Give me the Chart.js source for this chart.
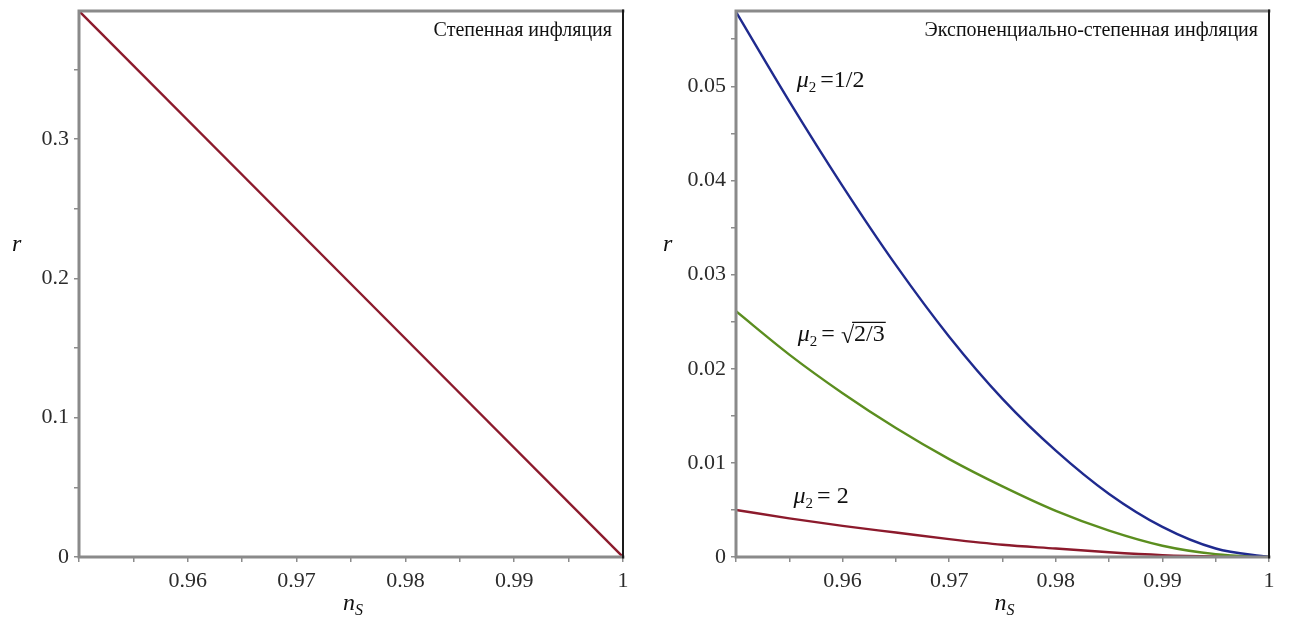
<!DOCTYPE html>
<html><head><meta charset="utf-8">
<script src="https://cdn.jsdelivr.net/npm/chart.js@4.4.0/dist/chart.umd.min.js"></script>
<style>
html,body{margin:0;padding:0;background:#fff;width:1290px;height:617px;overflow:hidden}
.w{position:absolute;top:0;width:645px;height:617px}
#wl{left:0}#wr{left:645px}
canvas{display:block}
</style></head><body>
<div class="w" id="wl"><canvas id="cl" width="645" height="617"></canvas></div>
<div class="w" id="wr"><canvas id="cr" width="645" height="617"></canvas></div>
<script>
// ---- data ----
const nsLeft = [0.95, 1.0];
const rPowerLaw = [0.392, 0.0];

const nsRight = [0.950, 0.955, 0.960, 0.965, 0.970, 0.975, 0.980, 0.985, 0.990, 0.995, 1.000];
const rMuHalf = [0.0579, 0.0484, 0.0394, 0.0310, 0.0234, 0.0168, 0.0113, 0.0067, 0.0032, 0.0009, 0.0];
const rMuSqrt = [0.0261, 0.0215, 0.0174, 0.0137, 0.0104, 0.0075, 0.0049, 0.0028, 0.0012, 0.0003, 0.0];
const rMuTwo  = [0.0050, 0.0041, 0.0033, 0.0026, 0.0019, 0.0013, 0.0009, 0.0005, 0.0002, 0.00005, 0.0];

const xTickLabels = ['0.96', '0.97', '0.98', '0.99', '1'];
const yTickLabelsLeft = ['0', '0.1', '0.2', '0.3'];
const yTickLabelsRight = ['0', '0.01', '0.02', '0.03', '0.04', '0.05'];

const titleLeft = 'Степенная инфляция';
const titleRight = 'Экспоненциально-степенная инфляция';
const muLabels = [
  {sub: '2', rest: '=1/2', sqrt: false, x: 0.9557, y: 0.0499},
  {sub: '2', rest: '2/3', sqrt: true, x: 0.9558, y: 0.0229},
  {sub: '2', rest: '= 2', sqrt: false, x: 0.9554, y: 0.0057}
];

// ---- helpers ----
const SERIF = '"Liberation Serif", "Times New Roman", serif';
const fmt = v => String(Number(v.toFixed(4)));
function pts(xs, ys){ return xs.map((x,i)=>({x:x, y:ys[i]})); }

function makeScale(min, max, step, labels, axis, size){
  return {
    type: 'linear', min: min, max: max,
    afterBuildTicks(s){ s.ticks = s.ticks.filter(t => Math.abs(t.value/step - Math.round(t.value/step)) < 1e-6); },
    afterFit(s){
      if(axis === 'x') s.height = size; else s.width = size;
      s.paddingTop = 0; s.paddingBottom = 0; s.paddingLeft = 0; s.paddingRight = 0;
    },
    ticks: {
      stepSize: step, autoSkip: false, maxRotation: 0, minRotation: 0,
      padding: axis === 'x' ? 6 : 5,
      color: '#2b2b2b',
      font: {family: SERIF, size: 22},
      callback: v => { const s = fmt(v); return labels.includes(s) ? s : ''; }
    },
    grid: {drawOnChartArea: false, drawTicks: true, tickLength: 5, color: '#8c8c8c', lineWidth: 1.5},
    border: {display: false}
  };
}

const framePlugin = {
  id: 'frame',
  afterDraw(c){
    const ctx = c.ctx, a = c.chartArea;
    ctx.save();
    ctx.strokeStyle = '#8a8a8a'; ctx.lineWidth = 3; ctx.lineCap = 'square';
    ctx.beginPath();
    ctx.moveTo(a.right, a.top); ctx.lineTo(a.left, a.top);
    ctx.lineTo(a.left, a.bottom); ctx.lineTo(a.right, a.bottom);
    ctx.stroke();
    ctx.strokeStyle = '#1a1a1a'; ctx.lineWidth = 2; ctx.lineCap = 'butt';
    ctx.beginPath(); ctx.moveTo(a.right, a.top - 1.5); ctx.lineTo(a.right, a.bottom + 1.5); ctx.stroke();
    ctx.restore();
  }
};

const textPlugin = {
  id: 'texts',
  afterDraw(c, args, o){
    const ctx = c.ctx, a = c.chartArea;
    ctx.save();
    ctx.fillStyle = '#111';
    // panel title
    ctx.font = '20px ' + SERIF;
    ctx.textAlign = 'right'; ctx.textBaseline = 'alphabetic';
    ctx.fillText(o.title, a.right - 11, 36);
    ctx.textAlign = 'left';
    // y axis title r
    ctx.font = 'italic 24px ' + SERIF;
    ctx.fillText('r', o.rX, 251);
    // x axis title n_S
    const nx = (a.left + a.right)/2 - 8;
    ctx.font = 'italic 24px ' + SERIF;
    ctx.fillText('n', nx, 610);
    const nw = ctx.measureText('n').width;
    ctx.font = 'italic 16px ' + SERIF;
    ctx.fillText('S', nx + nw, 615);
    // mu labels
    (o.mu || []).forEach(m => {
      let x = c.scales.x.getPixelForValue(m.x);
      const y = c.scales.y.getPixelForValue(m.y);
      ctx.font = 'italic 24px ' + SERIF;
      ctx.fillText('\u03BC', x, y); x += ctx.measureText('\u03BC').width;
      ctx.font = '15px ' + SERIF;
      ctx.fillText(m.sub, x, y + 5); x += ctx.measureText(m.sub).width + 4;
      ctx.font = '24px ' + SERIF;
      if(m.sqrt){
        ctx.fillText('= ', x, y); x += ctx.measureText('= ').width;
        ctx.fillText('\u221A', x, y + 2); x += ctx.measureText('\u221A').width - 1;
        const w = ctx.measureText(m.rest).width;
        ctx.fillText(m.rest, x + 1, y);
        ctx.strokeStyle = '#111'; ctx.lineWidth = 1.2;
        ctx.beginPath(); ctx.moveTo(x - 1, y - 19); ctx.lineTo(x + w + 2, y - 19); ctx.stroke();
      } else {
        ctx.fillText(m.rest, x, y);
      }
    });
    ctx.restore();
  }
};

function lineDs(data, color){
  return {data: data, showLine: true, borderColor: color, backgroundColor: color,
    borderWidth: 2.4, pointRadius: 0, cubicInterpolationMode: 'monotone', fill: false};
}

const common = {
  responsive: false, animation: false, devicePixelRatio: 1,
  plugins: {legend: {display: false}, tooltip: {enabled: false}}
};

new Chart(document.getElementById('cl'), {
  type: 'scatter',
  data: {datasets: [lineDs(pts(nsLeft, rPowerLaw), '#8c1a2c')]},
  options: Object.assign({}, common, {
    layout: {padding: {top: 11, right: 22, left: 0, bottom: 0}},
    scales: {
      x: makeScale(0.95, 1.0, 0.005, xTickLabels, 'x', 60),
      y: makeScale(0, 0.392, 0.05, yTickLabelsLeft, 'y', 79)
    },
    plugins: Object.assign({}, common.plugins, {texts: {title: titleLeft, rX: 12}})
  }),
  plugins: [framePlugin, textPlugin]
});

new Chart(document.getElementById('cr'), {
  type: 'scatter',
  data: {datasets: [
    lineDs(pts(nsRight, rMuHalf), '#1f2a8e'),
    lineDs(pts(nsRight, rMuSqrt), '#5b8e1f'),
    lineDs(pts(nsRight, rMuTwo), '#8c1a2c')
  ]},
  options: Object.assign({}, common, {
    layout: {padding: {top: 11, right: 21, left: 0, bottom: 0}},
    scales: {
      x: makeScale(0.95, 1.0, 0.005, xTickLabels, 'x', 60),
      y: makeScale(0, 0.058, 0.005, yTickLabelsRight, 'y', 91)
    },
    plugins: Object.assign({}, common.plugins, {texts: {title: titleRight, rX: 18, mu: muLabels}})
  }),
  plugins: [framePlugin, textPlugin]
});
</script>
</body></html>
